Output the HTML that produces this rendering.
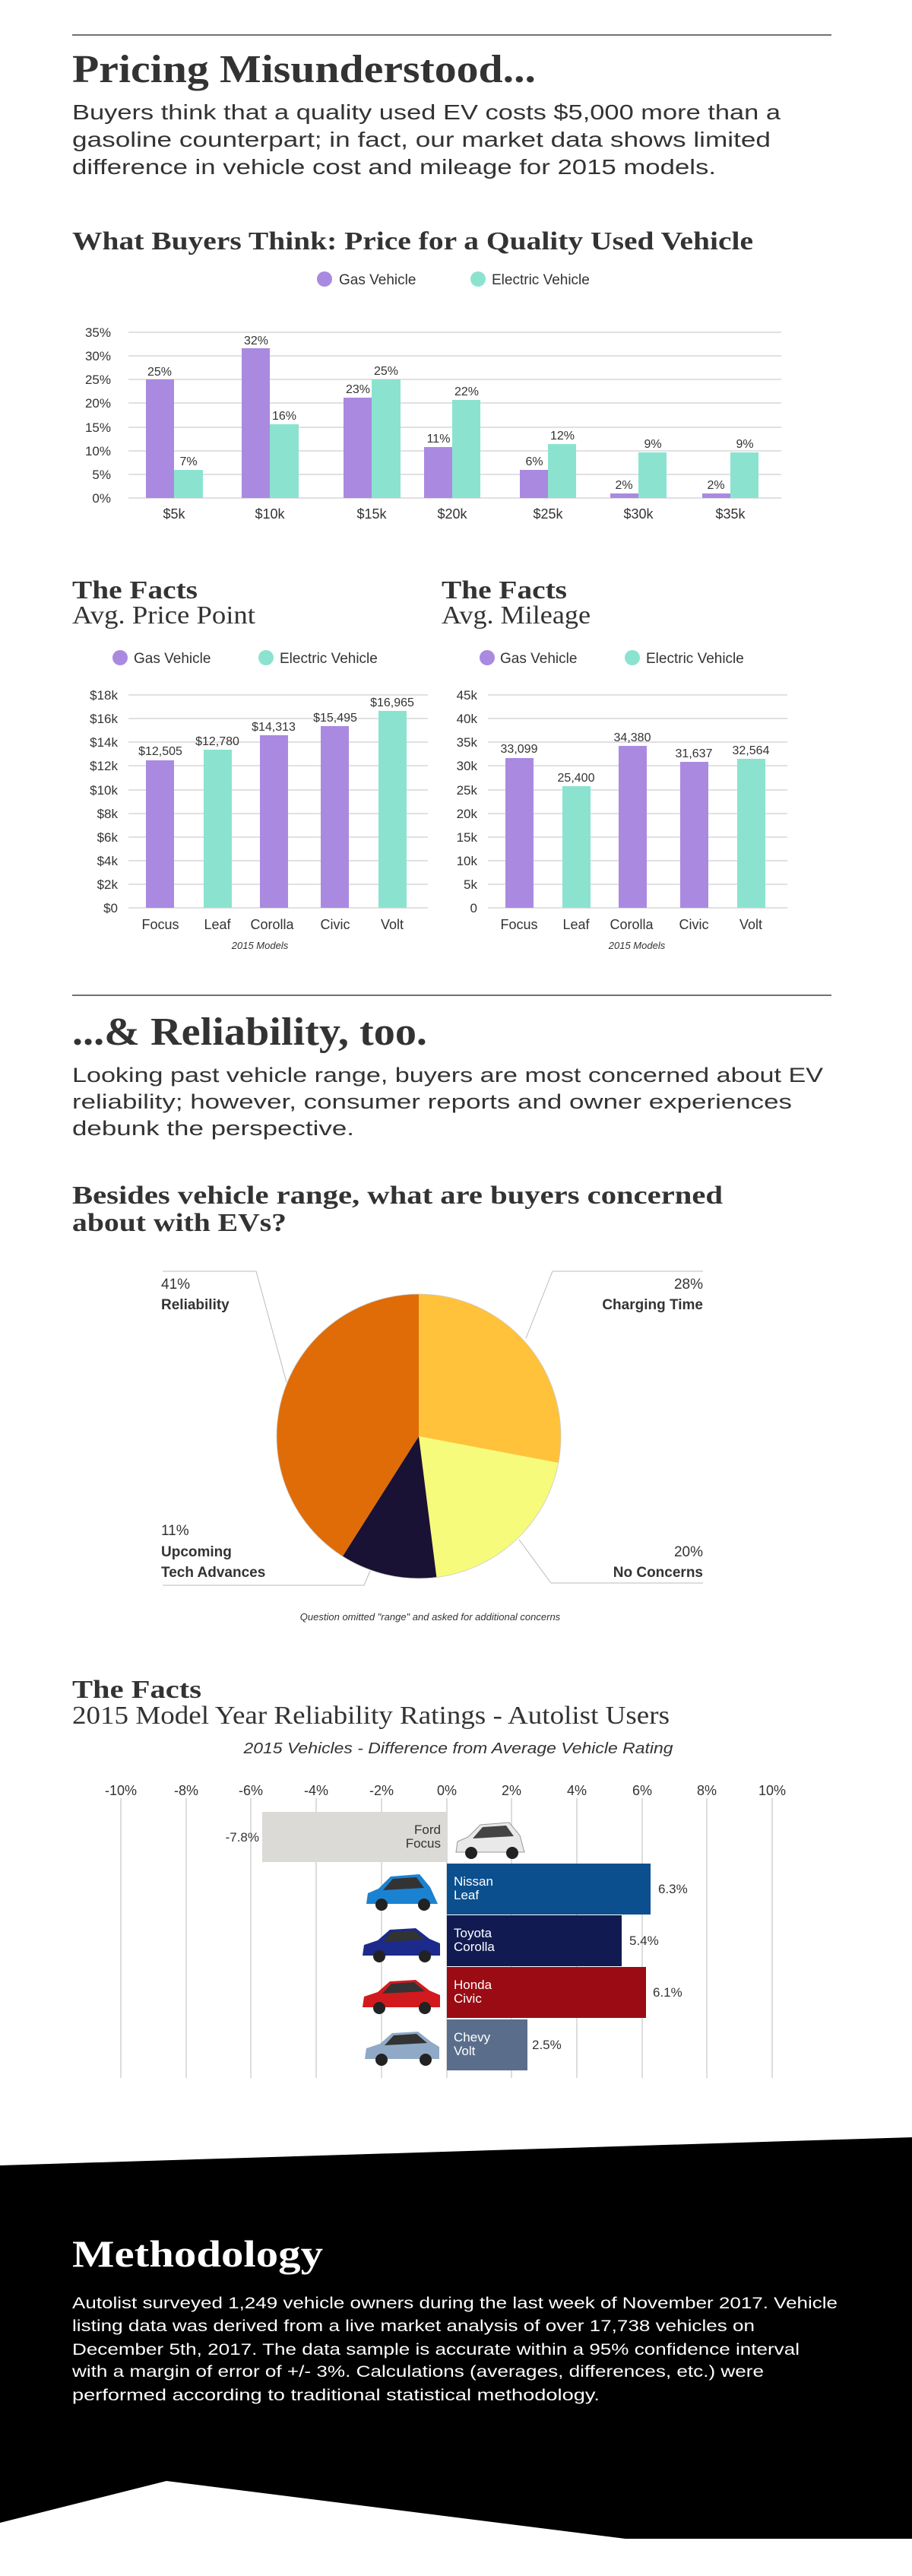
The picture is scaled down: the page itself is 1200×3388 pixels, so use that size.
<!DOCTYPE html>
<html><head><meta charset="utf-8"><style>
html,body{margin:0;padding:0;background:#fff;}
svg{display:block;}
.s{font-family:"Liberation Sans",sans-serif;fill:#333;}
.f{font-family:"Liberation Serif",serif;fill:#333;}
</style></head><body>
<svg width="1200" height="3388" viewBox="0 0 1200 3388" xmlns="http://www.w3.org/2000/svg">
<!-- Section 1 -->
<line x1="95" y1="46" x2="1094" y2="46" stroke="#444" stroke-width="1.5"/>
<text class="f" x="95" y="108" font-size="52" font-weight="bold" textLength="610" lengthAdjust="spacingAndGlyphs">Pricing Misunderstood...</text>
<g class="s" font-size="28">
<text x="95" y="157" textLength="932" lengthAdjust="spacingAndGlyphs">Buyers think that a quality used EV costs $5,000 more than a</text>
<text x="95" y="193" textLength="919" lengthAdjust="spacingAndGlyphs">gasoline counterpart; in fact, our market data shows limited</text>
<text x="95" y="229" textLength="847" lengthAdjust="spacingAndGlyphs">difference in vehicle cost and mileage for 2015 models.</text>
</g>
<text class="f" x="95" y="328" font-size="34" font-weight="bold" textLength="896" lengthAdjust="spacingAndGlyphs">What Buyers Think: Price for a Quality Used Vehicle</text>
<circle cx="427" cy="367" r="10" fill="#A98AE0"/>
<text class="s" x="446" y="374" font-size="19">Gas Vehicle</text>
<circle cx="629" cy="367" r="10" fill="#8BE3CF"/>
<text class="s" x="647" y="374" font-size="19">Electric Vehicle</text>
<g stroke="#e2e0e2" stroke-width="2">
<line x1="169" y1="437" x2="1028" y2="437"/><line x1="169" y1="468" x2="1028" y2="468"/>
<line x1="169" y1="499" x2="1028" y2="499"/><line x1="169" y1="530" x2="1028" y2="530"/>
<line x1="169" y1="562" x2="1028" y2="562"/><line x1="169" y1="593" x2="1028" y2="593"/>
<line x1="169" y1="624" x2="1028" y2="624"/><line x1="169" y1="655" x2="1028" y2="655"/>
</g>
<g class="s" font-size="17" text-anchor="end">
<text x="146" y="443">35%</text><text x="146" y="474">30%</text><text x="146" y="505">25%</text><text x="146" y="536">20%</text>
<text x="146" y="568">15%</text><text x="146" y="599">10%</text><text x="146" y="630">5%</text><text x="146" y="661">0%</text>
</g>
<g fill="#A98AE0">
<rect x="192" y="499" width="37" height="156"/><rect x="318" y="458" width="37" height="197"/>
<rect x="452" y="523" width="37" height="132"/><rect x="558" y="588" width="37" height="67"/>
<rect x="684" y="618" width="37" height="37"/><rect x="803" y="649" width="37" height="6"/>
<rect x="924" y="649" width="37" height="6"/>
</g>
<g fill="#8BE3CF">
<rect x="229" y="618" width="38" height="37"/><rect x="355" y="558" width="38" height="97"/>
<rect x="489" y="499" width="38" height="156"/><rect x="595" y="526" width="37" height="129"/>
<rect x="721" y="584" width="37" height="71"/><rect x="840" y="595" width="37" height="60"/>
<rect x="961" y="595" width="37" height="60"/>
</g>
<g class="s" font-size="16" text-anchor="middle">
<text x="210" y="494">25%</text><text x="248" y="612">7%</text>
<text x="337" y="453">32%</text><text x="374" y="552">16%</text>
<text x="471" y="517">23%</text><text x="508" y="493">25%</text>
<text x="577" y="582">11%</text><text x="614" y="520">22%</text>
<text x="703" y="612">6%</text><text x="740" y="578">12%</text>
<text x="821" y="643">2%</text><text x="859" y="589">9%</text>
<text x="942" y="643">2%</text><text x="980" y="589">9%</text>
</g>
<g class="s" font-size="18" text-anchor="middle">
<text x="229" y="682">$5k</text><text x="355" y="682">$10k</text><text x="489" y="682">$15k</text>
<text x="595" y="682">$20k</text><text x="721" y="682">$25k</text><text x="840" y="682">$30k</text><text x="961" y="682">$35k</text>
</g>

<!-- Facts charts -->
<text class="f" x="95" y="787" font-size="34" font-weight="bold" textLength="165" lengthAdjust="spacingAndGlyphs">The Facts</text>
<text class="f" x="95" y="820" font-size="34" textLength="241" lengthAdjust="spacingAndGlyphs">Avg. Price Point</text>
<text class="f" x="581" y="787" font-size="34" font-weight="bold" textLength="165" lengthAdjust="spacingAndGlyphs">The Facts</text>
<text class="f" x="581" y="820" font-size="34" textLength="196" lengthAdjust="spacingAndGlyphs">Avg. Mileage</text>
<circle cx="158" cy="865" r="10" fill="#A98AE0"/><text class="s" x="176" y="872" font-size="19">Gas Vehicle</text>
<circle cx="350" cy="865" r="10" fill="#8BE3CF"/><text class="s" x="368" y="872" font-size="19">Electric Vehicle</text>
<circle cx="641" cy="865" r="10" fill="#A98AE0"/><text class="s" x="658" y="872" font-size="19">Gas Vehicle</text>
<circle cx="832" cy="865" r="10" fill="#8BE3CF"/><text class="s" x="850" y="872" font-size="19">Electric Vehicle</text>
<g stroke="#e2e0e2" stroke-width="2">
<line x1="169" y1="914" x2="563" y2="914"/><line x1="169" y1="945" x2="563" y2="945"/><line x1="169" y1="976" x2="563" y2="976"/>
<line x1="169" y1="1007" x2="563" y2="1007"/><line x1="169" y1="1039" x2="563" y2="1039"/><line x1="169" y1="1070" x2="563" y2="1070"/>
<line x1="169" y1="1101" x2="563" y2="1101"/><line x1="169" y1="1132" x2="563" y2="1132"/><line x1="169" y1="1163" x2="563" y2="1163"/>
<line x1="169" y1="1194" x2="563" y2="1194"/>
<line x1="642" y1="914" x2="1036" y2="914"/><line x1="642" y1="945" x2="1036" y2="945"/><line x1="642" y1="976" x2="1036" y2="976"/>
<line x1="642" y1="1007" x2="1036" y2="1007"/><line x1="642" y1="1039" x2="1036" y2="1039"/><line x1="642" y1="1070" x2="1036" y2="1070"/>
<line x1="642" y1="1101" x2="1036" y2="1101"/><line x1="642" y1="1132" x2="1036" y2="1132"/><line x1="642" y1="1163" x2="1036" y2="1163"/>
<line x1="642" y1="1194" x2="1036" y2="1194"/>
</g>
<g class="s" font-size="17" text-anchor="end">
<text x="155" y="920">$18k</text><text x="155" y="951">$16k</text><text x="155" y="982">$14k</text><text x="155" y="1013">$12k</text>
<text x="155" y="1045">$10k</text><text x="155" y="1076">$8k</text><text x="155" y="1107">$6k</text><text x="155" y="1138">$4k</text>
<text x="155" y="1169">$2k</text><text x="155" y="1200">$0</text>
<text x="628" y="920">45k</text><text x="628" y="951">40k</text><text x="628" y="982">35k</text><text x="628" y="1013">30k</text>
<text x="628" y="1045">25k</text><text x="628" y="1076">20k</text><text x="628" y="1107">15k</text><text x="628" y="1138">10k</text>
<text x="628" y="1169">5k</text><text x="628" y="1200">0</text>
</g>
<rect x="192" y="1000" width="37" height="194" fill="#A98AE0"/>
<rect x="268" y="986" width="37" height="208" fill="#8BE3CF"/>
<rect x="342" y="967" width="37" height="227" fill="#A98AE0"/>
<rect x="422" y="955" width="37" height="239" fill="#A98AE0"/>
<rect x="498" y="935" width="37" height="259" fill="#8BE3CF"/>
<rect x="665" y="997" width="37" height="197" fill="#A98AE0"/>
<rect x="740" y="1034" width="37" height="160" fill="#8BE3CF"/>
<rect x="814" y="981" width="37" height="213" fill="#A98AE0"/>
<rect x="895" y="1002" width="37" height="192" fill="#A98AE0"/>
<rect x="970" y="998" width="37" height="196" fill="#8BE3CF"/>
<g class="s" font-size="16" text-anchor="middle">
<text x="211" y="993">$12,505</text><text x="286" y="980">$12,780</text><text x="360" y="961">$14,313</text>
<text x="441" y="949">$15,495</text><text x="516" y="929">$16,965</text>
<text x="683" y="990">33,099</text><text x="758" y="1028">25,400</text><text x="832" y="975">34,380</text>
<text x="913" y="996">31,637</text><text x="988" y="992">32,564</text>
</g>
<g class="s" font-size="18" text-anchor="middle">
<text x="211" y="1222">Focus</text><text x="286" y="1222">Leaf</text><text x="358" y="1222">Corolla</text><text x="441" y="1222">Civic</text><text x="516" y="1222">Volt</text>
<text x="683" y="1222">Focus</text><text x="758" y="1222">Leaf</text><text x="831" y="1222">Corolla</text><text x="913" y="1222">Civic</text><text x="988" y="1222">Volt</text>
</g>
<text class="s" x="342" y="1248" font-size="13" font-style="italic" text-anchor="middle" fill="#555">2015 Models</text>
<text class="s" x="838" y="1248" font-size="13" font-style="italic" text-anchor="middle" fill="#555">2015 Models</text>

<!-- Section 2 -->
<line x1="95" y1="1309" x2="1094" y2="1309" stroke="#444" stroke-width="1.5"/>
<text class="f" x="95" y="1374" font-size="52" font-weight="bold" textLength="467" lengthAdjust="spacingAndGlyphs">...&amp; Reliability, too.</text>
<g class="s" font-size="27">
<text x="95" y="1423" textLength="988" lengthAdjust="spacingAndGlyphs">Looking past vehicle range, buyers are most concerned about EV</text>
<text x="95" y="1458" textLength="947" lengthAdjust="spacingAndGlyphs">reliability; however, consumer reports and owner experiences</text>
<text x="95" y="1493" textLength="371" lengthAdjust="spacingAndGlyphs">debunk the perspective.</text>
</g>
<text class="f" x="95" y="1583" font-size="34" font-weight="bold" textLength="856" lengthAdjust="spacingAndGlyphs">Besides vehicle range, what are buyers concerned</text>
<text class="f" x="95" y="1619" font-size="34" font-weight="bold" textLength="282" lengthAdjust="spacingAndGlyphs">about with EVs?</text>
<g stroke="#bbb" stroke-width="1" fill="none">
<polyline points="214,1672 337,1672 377,1818"/>
<polyline points="925,1672 727,1672 692,1760"/>
<polyline points="214,2085 479,2085 487,2066"/>
<polyline points="925,2082 725,2082 683,2025"/>
</g>
<path d="M551,1889 L551,1702 A187,187 0 0 1 734.7,1924 Z" fill="#FFC23A"/>
<path d="M551,1889 L734.7,1924 A187,187 0 0 1 574.4,2074.5 Z" fill="#F7FB7B"/>
<path d="M551,1889 L574.4,2074.5 A187,187 0 0 1 450.8,2046.9 Z" fill="#1A1234"/>
<path d="M551,1889 L450.8,2046.9 A187,187 0 0 1 551,1702 Z" fill="#E06C08"/>
<circle cx="551" cy="1889" r="187" fill="none" stroke="#ccc" stroke-width="0.8"/>
<g class="s" font-size="19">
<text x="212" y="1695">41%</text><text x="212" y="1722" font-weight="bold">Reliability</text>
<text x="925" y="1695" text-anchor="end">28%</text><text x="925" y="1722" font-weight="bold" text-anchor="end">Charging Time</text>
<text x="212" y="2019">11%</text><text x="212" y="2047" font-weight="bold">Upcoming</text><text x="212" y="2074" font-weight="bold">Tech Advances</text>
<text x="925" y="2047" text-anchor="end">20%</text><text x="925" y="2074" font-weight="bold" text-anchor="end">No Concerns</text>
</g>
<text class="s" x="566" y="2131" font-size="13" font-style="italic" text-anchor="middle" fill="#555">Question omitted "range" and asked for additional concerns</text>

<!-- Reliability bars -->
<text class="f" x="95" y="2233" font-size="34" font-weight="bold" textLength="170" lengthAdjust="spacingAndGlyphs">The Facts</text>
<text class="f" x="95" y="2267" font-size="34" textLength="786" lengthAdjust="spacingAndGlyphs">2015 Model Year Reliability Ratings - Autolist Users</text>
<text class="s" x="603" y="2306" font-size="20" font-style="italic" text-anchor="middle" textLength="565" lengthAdjust="spacingAndGlyphs">2015 Vehicles - Difference from Average Vehicle Rating</text>
<g stroke="#ddd" stroke-width="2">
<line x1="159" y1="2365" x2="159" y2="2733"/><line x1="245" y1="2365" x2="245" y2="2733"/><line x1="330" y1="2365" x2="330" y2="2733"/>
<line x1="416" y1="2365" x2="416" y2="2733"/><line x1="502" y1="2365" x2="502" y2="2733"/><line x1="588" y1="2365" x2="588" y2="2733"/>
<line x1="673" y1="2365" x2="673" y2="2733"/><line x1="759" y1="2365" x2="759" y2="2733"/><line x1="845" y1="2365" x2="845" y2="2733"/>
<line x1="930" y1="2365" x2="930" y2="2733"/><line x1="1016" y1="2365" x2="1016" y2="2733"/>
</g>
<g class="s" font-size="18" text-anchor="middle">
<text x="159" y="2361">-10%</text><text x="245" y="2361">-8%</text><text x="330" y="2361">-6%</text><text x="416" y="2361">-4%</text>
<text x="502" y="2361">-2%</text><text x="588" y="2361">0%</text><text x="673" y="2361">2%</text><text x="759" y="2361">4%</text>
<text x="845" y="2361">6%</text><text x="930" y="2361">8%</text><text x="1016" y="2361">10%</text>
</g>
<rect x="345" y="2383" width="244" height="66" fill="#DCDAD6"/>
<rect x="588" y="2451" width="268" height="67" fill="#0B4F8F"/>
<rect x="588" y="2519" width="230" height="67" fill="#111B52"/>
<rect x="588" y="2587" width="262" height="67" fill="#9B0B13"/>
<rect x="588" y="2656" width="106" height="67" fill="#5A6E8C"/>
<g class="s" font-size="17">
<text x="580" y="2412" text-anchor="end">Ford</text><text x="580" y="2430" text-anchor="end">Focus</text>
<text x="597" y="2480" fill="#fff">Nissan</text><text x="597" y="2498" fill="#fff">Leaf</text>
<text x="597" y="2548" fill="#fff">Toyota</text><text x="597" y="2566" fill="#fff">Corolla</text>
<text x="597" y="2616" fill="#fff">Honda</text><text x="597" y="2634" fill="#fff">Civic</text>
<text x="597" y="2685" fill="#fff">Chevy</text><text x="597" y="2703" fill="#fff">Volt</text>
<text x="341" y="2422" text-anchor="end">-7.8%</text>
<text x="866" y="2490">6.3%</text><text x="828" y="2558">5.4%</text><text x="859" y="2626">6.1%</text><text x="700" y="2695">2.5%</text>
</g>
<!-- cars -->
<g transform="translate(596,2390)">
<path d="M4,46 L6,32 L20,26 L36,10 L74,7 L88,24 L94,46 Z" fill="#e9e9e9" stroke="#999"/>
<path d="M39,13 L70,11 L80,25 L26,28 Z" fill="#444"/>
<circle cx="24" cy="47" r="8" fill="#222"/><circle cx="78" cy="47" r="8" fill="#222"/>
</g>
<g transform="translate(478,2458)">
<path d="M4,46 L6,32 L20,26 L36,10 L74,7 L88,24 L98,46 Z" fill="#1b82d2"/>
<path d="M39,13 L70,11 L80,25 L26,28 Z" fill="#333"/>
<circle cx="24" cy="47" r="8" fill="#222"/><circle cx="80" cy="47" r="8" fill="#222"/>
</g>
<g transform="translate(475,2526)">
<path d="M2,46 L4,32 L22,26 L38,12 L72,10 L90,24 L104,30 L104,46 Z" fill="#1c2a8c"/>
<path d="M40,15 L70,13 L84,25 L28,28 Z" fill="#333"/>
<circle cx="24" cy="47" r="8" fill="#222"/><circle cx="84" cy="47" r="8" fill="#222"/>
</g>
<g transform="translate(475,2594)">
<path d="M2,46 L4,32 L22,26 L38,12 L72,10 L90,24 L104,30 L104,46 Z" fill="#d11a1e"/>
<path d="M40,15 L70,13 L84,25 L28,28 Z" fill="#333"/>
<circle cx="24" cy="47" r="8" fill="#222"/><circle cx="84" cy="47" r="8" fill="#222"/>
</g>
<g transform="translate(478,2662)">
<path d="M2,46 L4,32 L22,26 L38,12 L72,10 L90,24 L100,30 L100,46 Z" fill="#8fa9c6"/>
<path d="M40,15 L70,13 L84,25 L28,28 Z" fill="#333"/>
<circle cx="24" cy="47" r="8" fill="#222"/><circle cx="82" cy="47" r="8" fill="#222"/>
</g>

<!-- Methodology -->
<path d="M0,2848 L1200,2811 L1200,3339 L823,3339 L219,3263 L0,3318 Z" fill="#000"/>
<text class="f" x="95" y="2981" font-size="50" font-weight="bold" style="fill:#fff" textLength="330" lengthAdjust="spacingAndGlyphs">Methodology</text>
<g class="s" font-size="21">
<text x="95" y="3036" style="fill:#fff" textLength="1007" lengthAdjust="spacingAndGlyphs">Autolist surveyed 1,249 vehicle owners during the last week of November 2017. Vehicle</text>
<text x="95" y="3066" style="fill:#fff" textLength="898" lengthAdjust="spacingAndGlyphs">listing data was derived from a live market analysis of over 17,738 vehicles on</text>
<text x="95" y="3097" style="fill:#fff" textLength="957" lengthAdjust="spacingAndGlyphs">December 5th, 2017.  The data sample is accurate within a 95% confidence interval</text>
<text x="95" y="3126" style="fill:#fff" textLength="910" lengthAdjust="spacingAndGlyphs">with a margin of error of +/- 3%. Calculations (averages, differences, etc.) were</text>
<text x="95" y="3157" style="fill:#fff" textLength="694" lengthAdjust="spacingAndGlyphs">performed according to traditional statistical methodology.</text>
</g>
</svg>
</body></html>
